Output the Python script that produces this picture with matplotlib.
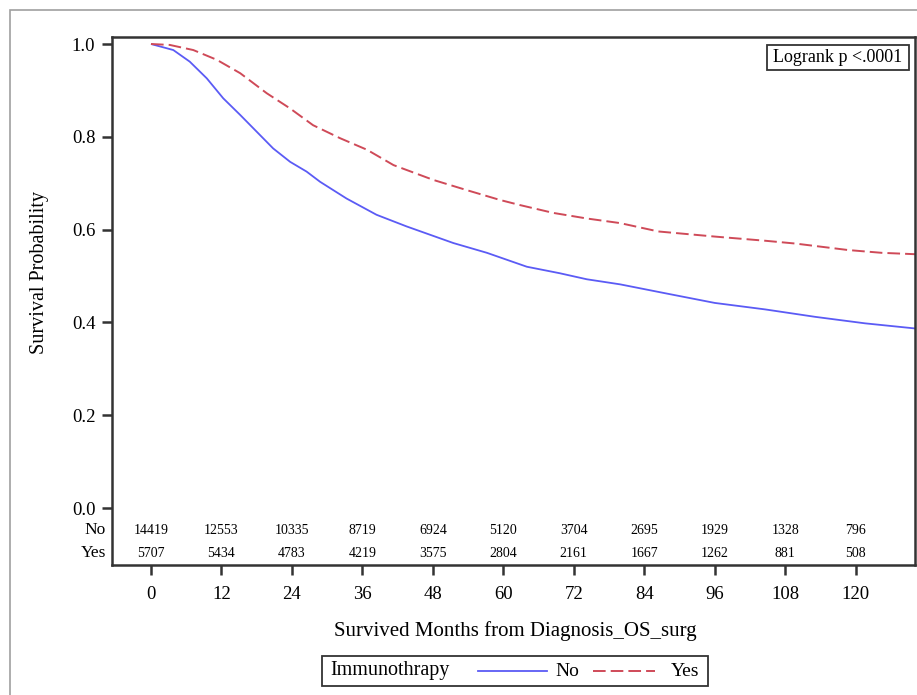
import matplotlib
matplotlib.use("Agg")
import matplotlib.pyplot as plt
from matplotlib.patches import Rectangle
from matplotlib.lines import Line2D

plt.rcParams['font.family'] = ['Liberation Serif', 'DejaVu Serif']

# ---- data ----
months_no = [0, 3.8, 6.6, 9.5, 12.3, 15.2, 18.0, 20.8, 23.7, 26.5, 28.8, 33.3, 38.4, 43.5,
             51.5, 57.2, 64.0, 69.6, 74.2, 79.9, 87.5, 96.0, 104.6, 113.1, 121.6, 130.1]
surv_no = [1.0, 0.987, 0.962, 0.926, 0.883, 0.847, 0.811, 0.775, 0.746, 0.725, 0.703, 0.667,
           0.632, 0.607, 0.571, 0.550, 0.520, 0.506, 0.493, 0.482, 0.463, 0.442, 0.428,
           0.412, 0.398, 0.387]
months_yes = [0, 3.2, 7.2, 11.2, 15.2, 19.7, 23.7, 27.6, 32.2, 36.8, 41.3, 48.1, 53.8, 59.4,
              62.8, 68.5, 74.2, 79.9, 86.4, 96.0, 104.6, 109.7, 118.7, 124.4, 130.1]
surv_yes = [1.0, 0.998, 0.987, 0.966, 0.937, 0.894, 0.861, 0.825, 0.797, 0.772, 0.739, 0.707,
            0.685, 0.664, 0.653, 0.636, 0.624, 0.614, 0.596, 0.585, 0.576, 0.570, 0.556,
            0.550, 0.547]

risk_times = [0, 12, 24, 36, 48, 60, 72, 84, 96, 108, 120]
risk_no = [14419, 12553, 10335, 8719, 6924, 5120, 3704, 2695, 1929, 1328, 796]
risk_yes = [5707, 5434, 4783, 4219, 3575, 2804, 2161, 1667, 1262, 881, 508]
group_labels = ["No", "Yes"]
legend_title = "Immunothrapy"
yticks = [0.0, 0.2, 0.4, 0.6, 0.8, 1.0]

W, H = 917, 695
fig = plt.figure(figsize=(W / 100, H / 100), dpi=100)

def fx(px):
    return px / W

def fy(py):
    return 1 - py / H

# outer grey frame
fig.patches.append(Rectangle((fx(10), fy(700)), fx(920) - fx(10), fy(10) - fy(700),
                             transform=fig.transFigure, fill=False, edgecolor='#a0a0a0',
                             linewidth=1.2, clip_on=False))

ax = fig.add_axes([fx(112), fy(565), fx(915) - fx(112), fy(37) - fy(565)])
ax.set_xlim(-6.64, 130.1)
ax.set_ylim(-0.1228, 1.0151)

c_no = '#5b5bf5'
c_yes = '#cf4a58'
ax.plot(months_no, surv_no, color=c_no, lw=1.3, solid_capstyle='butt')
ax.plot(months_yes, surv_yes, color=c_yes, lw=1.4, dashes=(6.5, 2.6))

ax.set_yticks(yticks)
ax.set_yticklabels([f"{v:.1f}" for v in yticks])
ax.set_xticks(risk_times)
ax.set_xticklabels([str(t) for t in risk_times])
ax.tick_params(axis='both', direction='out', length=7, width=1.8, color='#333333',
               labelsize=13.5, labelcolor='black')
ax.tick_params(axis='y', pad=5)
ax.tick_params(axis='x', pad=8)
for s in ax.spines.values():
    s.set_color('#333333')
    s.set_linewidth(1.8)

# at-risk table inside the plot box
y_no, y_yes = -0.0474, -0.097
for t, n1, n2 in zip(risk_times, risk_no, risk_yes):
    ax.text(t, y_no, str(n1), ha='center', va='center', fontsize=10)
    ax.text(t, y_yes, str(n2), ha='center', va='center', fontsize=10)
ax.text(-7.7, y_no, group_labels[0], ha='right', va='center', fontsize=12.5, clip_on=False)
ax.text(-7.7, y_yes, group_labels[1], ha='right', va='center', fontsize=12.5, clip_on=False)

# axis labels
fig.text(fx(40), fy(272), "Survival Probability", rotation=90, ha='center', va='center',
         fontsize=14.5)
fig.text(fx(515), fy(631), "Survived Months from Diagnosis_OS_surg", ha='center',
         va='center', fontsize=15)

# logrank box
fig.patches.append(Rectangle((fx(767), fy(69.5)), fx(908.5) - fx(767), fy(45) - fy(69.5),
                             transform=fig.transFigure, fill=False, edgecolor='#333333',
                             linewidth=1.3))
fig.text(fx(837.5), fy(57.5), "Logrank p <.0001", ha='center', va='center', fontsize=13)

# legend
fig.patches.append(Rectangle((fx(322), fy(686)), fx(708) - fx(322), fy(656) - fy(686),
                             transform=fig.transFigure, fill=False, edgecolor='#333333',
                             linewidth=1.3))
ly = fy(671)
fig.text(fx(330), ly, legend_title, ha='left', va='center', fontsize=14.5)
fig.lines.append(Line2D([fx(478), fx(547)], [ly, ly], transform=fig.transFigure,
                        color=c_no, lw=1.3))
fig.text(fx(555), ly, group_labels[0], ha='left', va='center', fontsize=14)
fig.lines.append(Line2D([fx(593), fx(655)], [ly, ly], transform=fig.transFigure,
                        color=c_yes, lw=1.4, dashes=(6.5, 2.6)))
fig.text(fx(671), ly, group_labels[1], ha='left', va='center', fontsize=14)

fig.savefig("out.png", dpi=100)
